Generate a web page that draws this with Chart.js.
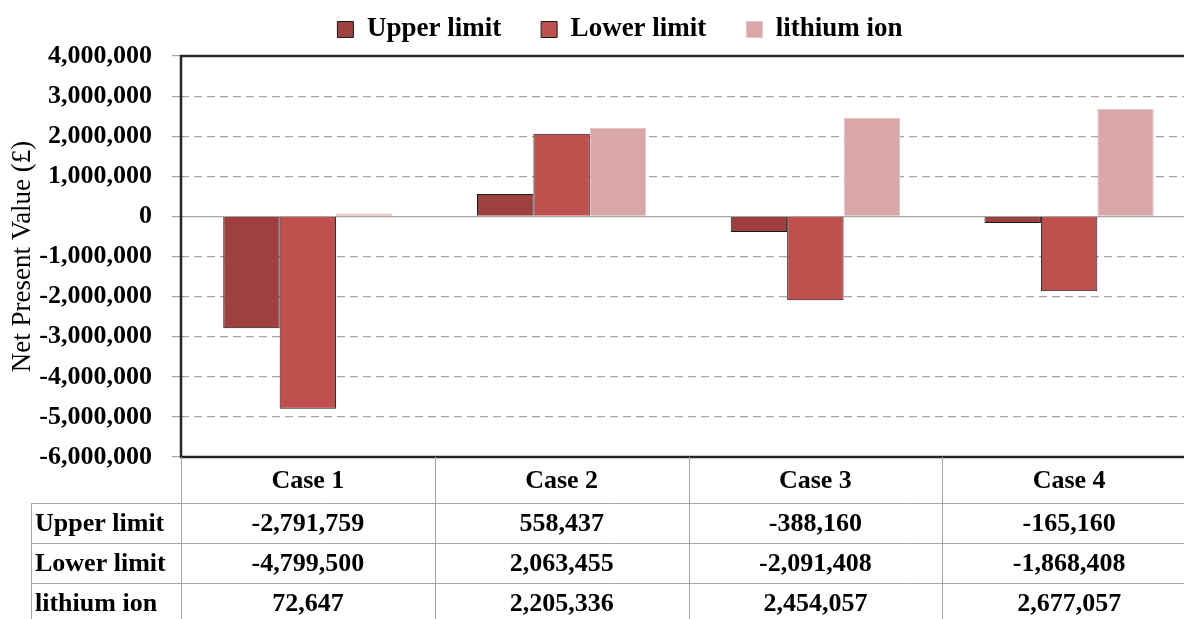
<!DOCTYPE html>
<html>
<head>
<meta charset="utf-8">
<script src="https://cdn.jsdelivr.net/npm/chart.js@4.4.1/dist/chart.umd.min.js"></script>
<style>
    html, body { margin: 0; padding: 0; background: #fff; overflow: hidden; }
    #wrap { width: 1200px; height: 640px; }
</style>
</head>
<body>
<div id="wrap"><canvas id="npvChart" width="1200" height="640"></canvas></div>
<script>
const cases = ['Case 1', 'Case 2', 'Case 3', 'Case 4'];
const upperLimit = [-2791759, 558437, -388160, -165160];
const lowerLimit = [-4799500, 2063455, -2091408, -1868408];
const lithiumIon = [72647, 2205336, 2454057, 2677057];
const seriesNames = ['Upper limit', 'Lower limit', 'lithium ion'];

const yMin = -6000000;
const yMax = 4000000;
const yStep = 1000000;

const FONT = 'Liberation Serif';
const fmt = v => Number(v).toLocaleString('en-US');

// data table under the plot, columns follow the category scale
const dataTable = {
    id: 'dataTable',
    afterDraw(chart) {
        const ctx = chart.ctx;
        const x = chart.scales.x;
        const area = chart.chartArea;
        const colW = (x.right - x.left) / cases.length;
        const headerH = 46;
        const rowH = 40;
        const labelLeft = 31;
        const rows = [upperLimit, lowerLimit, lithiumIon];
        const tableBottom = area.bottom + headerH + rowH * rows.length;

        ctx.save();
        ctx.strokeStyle = '#a6a6a6';
        ctx.lineWidth = 1;

        ctx.beginPath();
        for (let i = 0; i <= cases.length; i++) {
            const xx = Math.round(x.left + colW * i) + 0.5;
            ctx.moveTo(xx, area.bottom);
            ctx.lineTo(xx, tableBottom);
        }
        ctx.moveTo(labelLeft + 0.5, area.bottom + headerH);
        ctx.lineTo(labelLeft + 0.5, tableBottom);
        for (let r = 0; r <= rows.length; r++) {
            const yy = Math.round(area.bottom + headerH + rowH * r) + 0.5;
            ctx.moveTo(labelLeft, yy);
            ctx.lineTo(x.right, yy);
        }
        ctx.stroke();

        ctx.fillStyle = '#000';
        ctx.font = 'bold 26px "' + FONT + '"';
        ctx.textBaseline = 'middle';
        ctx.textAlign = 'center';
        cases.forEach((c, i) => {
            ctx.fillText(c, x.getPixelForValue(i), area.bottom + headerH / 2 + 1);
        });
        rows.forEach((vals, r) => {
            const cy = area.bottom + headerH + rowH * r + rowH / 2 + 1;
            ctx.textAlign = 'left';
            ctx.fillText(seriesNames[r], labelLeft + 4, cy);
            ctx.textAlign = 'center';
            vals.forEach((v, i) => ctx.fillText(fmt(v), x.getPixelForValue(i), cy));
        });
        ctx.restore();
    }
};

// dark frame on the top, left and bottom of the plot area
const plotFrame = {
    id: 'plotFrame',
    afterDatasetsDraw(chart) {
        const ctx = chart.ctx;
        const a = chart.chartArea;
        ctx.save();
        ctx.strokeStyle = '#262626';
        ctx.lineWidth = 2.5;
        ctx.beginPath();
        ctx.moveTo(a.right, a.top);
        ctx.lineTo(a.left, a.top);
        ctx.lineTo(a.left, a.bottom);
        ctx.lineTo(a.right, a.bottom);
        ctx.stroke();
        ctx.restore();
    }
};

// a bit more room under the legend, and the legend sits right of centre
const legendBand = {
    id: 'legendBand',
    beforeLayout(chart) {
        const legend = chart.legend;
        if (legend && !legend._padded) {
            const fit = legend.fit;
            legend.fit = function () {
                fit.call(this);
                this.height += 3;
            };
            legend._padded = true;
        }
    },
    afterLayout(chart) {
        if (chart.legend) chart.legend.left += 44;
    }
};

new Chart(document.getElementById('npvChart').getContext('2d'), {
    type: 'bar',
    data: {
        labels: cases,
        datasets: [{
            label: seriesNames[0],
            data: upperLimit,
            backgroundColor: '#9d403f',
            borderColor: '#1a1a1a',
            borderWidth: 1
        }, {
            label: seriesNames[1],
            data: lowerLimit,
            backgroundColor: '#c0504d',
            borderColor: '#1a1a1a',
            borderWidth: 1
        }, {
            label: seriesNames[2],
            data: lithiumIon,
            backgroundColor: '#d9a7a7',
            borderColor: '#e6c4c4',
            borderWidth: 1
        }]
    },
    options: {
        responsive: false,
        animation: false,
        layout: { padding: { top: -24, right: 4, left: 0, bottom: 0 } },
        datasets: {
            bar: { categoryPercentage: 0.667, barPercentage: 1.0 }
        },
        plugins: {
            legend: {
                position: 'top',
                labels: {
                    color: '#000',
                    font: { family: FONT, size: 27, weight: 'bold' },
                    boxWidth: 16,
                    boxHeight: 16,
                    padding: 40
                }
            },
            tooltip: { enabled: false }
        },
        scales: {
            x: {
                ticks: { display: false },
                grid: { display: false },
                border: { display: false },
                afterFit(scale) { scale.height = 183; }
            },
            y: {
                min: yMin,
                max: yMax,
                ticks: {
                    stepSize: yStep,
                    color: '#000',
                    padding: 20,
                    font: { family: FONT, size: 26, weight: 'bold' },
                    callback: v => fmt(v)
                },
                grid: {
                    color: '#a6a6a6',
                    lineWidth: 1.2,
                    tickLength: 9,
                    tickBorderDash: []
                },
                border: {
                    display: false,
                    dash: ctx => (ctx.tick && ctx.tick.value === 0) ? [] : [8, 5]
                },
                title: {
                    display: true,
                    text: 'Net Present Value (£)',
                    color: '#000',
                    font: { family: FONT, size: 27, weight: 'normal' },
                    padding: { top: 7, bottom: 0 }
                },
                afterFit(scale) { scale.width = 181; }
            }
        }
    },
    plugins: [legendBand, plotFrame, dataTable]
});
</script>
</body>
</html>
